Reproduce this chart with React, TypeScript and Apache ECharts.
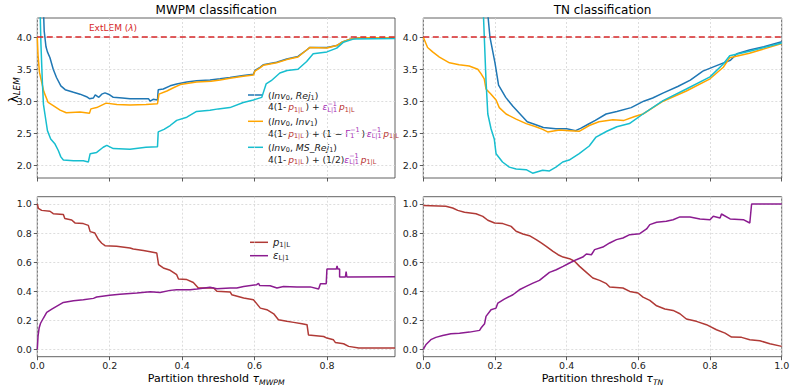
import React, { useEffect, useRef } from 'react';
import * as echarts from 'echarts';

// ---------- data ----------
const mwpmRej: number[][] = [
  [0.016, 4.6], [0.019, 4.1], [0.024, 3.85], [0.028, 3.77], [0.035, 3.68], [0.044, 3.5], [0.053, 3.37], [0.065, 3.24],
  [0.077, 3.18], [0.1, 3.14], [0.118, 3.11], [0.136, 3.07], [0.144, 3.04], [0.155, 3.05], [0.16, 3.1], [0.17, 3.06],
  [0.178, 3.11], [0.187, 3.13], [0.2, 3.1], [0.21, 3.06], [0.235, 3.05], [0.256, 3.04], [0.285, 3.04], [0.307, 3.04],
  [0.312, 3.0], [0.32, 3.03], [0.332, 3.02], [0.334, 3.18], [0.348, 3.19], [0.367, 3.24], [0.385, 3.27], [0.413, 3.3],
  [0.44, 3.32], [0.477, 3.33], [0.505, 3.35], [0.532, 3.37], [0.569, 3.4], [0.597, 3.42], [0.601, 3.48], [0.615, 3.53],
  [0.624, 3.57], [0.661, 3.61], [0.689, 3.66], [0.72, 3.7], [0.744, 3.8], [0.753, 3.84], [0.8, 3.84], [0.827, 3.87],
  [0.841, 3.92], [0.864, 3.97], [0.891, 3.99], [0.988, 3.99],
];
const mwpmInv: number[][] = [
  [0, 4.0], [0.002, 3.72], [0.006, 3.45], [0.012, 3.3], [0.018, 3.15], [0.03, 2.98], [0.044, 2.93], [0.063, 2.86],
  [0.08, 2.82], [0.118, 2.83], [0.144, 2.81], [0.148, 2.88], [0.164, 2.9], [0.19, 2.97], [0.22, 2.95], [0.256, 2.94],
  [0.3, 2.95], [0.332, 2.96], [0.336, 3.11], [0.358, 3.16], [0.376, 3.21], [0.395, 3.26], [0.44, 3.3], [0.48, 3.31],
  [0.505, 3.33], [0.532, 3.36], [0.569, 3.39], [0.597, 3.41], [0.601, 3.47], [0.615, 3.52], [0.624, 3.56], [0.661, 3.6],
  [0.689, 3.65], [0.72, 3.69], [0.744, 3.8], [0.753, 3.84], [0.8, 3.83], [0.827, 3.87], [0.841, 3.92], [0.864, 3.97],
  [0.891, 3.99], [0.988, 3.99],
];
const mwpmMsRej: number[][] = [
  [0.007, 4.6], [0.01, 3.9], [0.014, 3.3], [0.017, 2.95], [0.021, 2.8], [0.028, 2.54], [0.037, 2.41], [0.049, 2.33],
  [0.058, 2.23], [0.065, 2.13], [0.072, 2.08], [0.1, 2.07], [0.127, 2.07], [0.141, 2.05], [0.146, 2.18], [0.164, 2.2],
  [0.182, 2.28], [0.192, 2.31], [0.21, 2.26], [0.256, 2.25], [0.3, 2.28], [0.332, 2.29], [0.334, 2.52], [0.35, 2.56],
  [0.367, 2.62], [0.385, 2.7], [0.413, 2.75], [0.44, 2.84], [0.477, 2.86], [0.5, 2.88], [0.532, 2.9], [0.569, 2.98],
  [0.597, 3.02], [0.62, 3.06], [0.632, 3.27], [0.646, 3.32], [0.67, 3.44], [0.69, 3.48], [0.72, 3.5], [0.744, 3.62],
  [0.762, 3.74], [0.8, 3.77], [0.827, 3.83], [0.845, 3.92], [0.873, 3.97], [0.988, 3.98],
];
const tnRej: number[][] = [
  [0.176, 4.6], [0.186, 4.0], [0.2, 3.6], [0.21, 3.25], [0.23, 3.06], [0.25, 2.92], [0.27, 2.8], [0.29, 2.68],
  [0.31, 2.64], [0.335, 2.59], [0.37, 2.57], [0.4, 2.57], [0.425, 2.54], [0.44, 2.58], [0.46, 2.64], [0.48, 2.7],
  [0.51, 2.8], [0.54, 2.84], [0.58, 2.9], [0.615, 3.0], [0.64, 3.05], [0.67, 3.13], [0.71, 3.23], [0.745, 3.33],
  [0.78, 3.47], [0.82, 3.56], [0.857, 3.64], [0.875, 3.74], [0.91, 3.8], [0.95, 3.85], [1.0, 3.93],
];
const tnInv: number[][] = [
  [0, 4.0], [0.012, 3.84], [0.026, 3.77], [0.045, 3.69], [0.073, 3.6], [0.1, 3.57], [0.128, 3.55], [0.152, 3.5],
  [0.161, 3.43], [0.17, 3.35], [0.175, 3.19], [0.189, 3.11], [0.203, 3.02], [0.212, 2.9], [0.231, 2.8], [0.259, 2.72],
  [0.287, 2.65], [0.314, 2.6], [0.333, 2.56], [0.347, 2.52], [0.38, 2.55], [0.407, 2.54], [0.435, 2.53], [0.463, 2.62],
  [0.49, 2.68], [0.529, 2.71], [0.56, 2.7], [0.59, 2.76], [0.613, 2.8], [0.669, 3.0], [0.734, 3.16], [0.8, 3.35],
  [0.837, 3.53], [0.855, 3.68], [0.91, 3.75], [1.0, 3.9],
];
const tnMsRej: number[][] = [
  [0.166, 4.6], [0.175, 3.32], [0.18, 2.8], [0.189, 2.57], [0.198, 2.41], [0.203, 2.18], [0.221, 2.05], [0.24, 1.97],
  [0.259, 1.94], [0.287, 1.93], [0.305, 1.875], [0.333, 1.92], [0.352, 1.91], [0.37, 1.97], [0.389, 2.05], [0.407, 2.08],
  [0.435, 2.18], [0.463, 2.3], [0.482, 2.44], [0.512, 2.53], [0.54, 2.6], [0.575, 2.65], [0.613, 2.8], [0.669, 3.01],
  [0.734, 3.19], [0.8, 3.38], [0.837, 3.58], [0.855, 3.71], [0.91, 3.78], [1.0, 3.91],
];
const mwpmP: number[][] = [
  [0, 1.0], [0.003, 0.97], [0.012, 0.956], [0.035, 0.95], [0.044, 0.933], [0.072, 0.927], [0.076, 0.9], [0.095, 0.89],
  [0.104, 0.87], [0.127, 0.865], [0.141, 0.853], [0.146, 0.81], [0.159, 0.8], [0.169, 0.755], [0.178, 0.73], [0.187, 0.713],
  [0.219, 0.709], [0.256, 0.697], [0.265, 0.69], [0.293, 0.68], [0.312, 0.672], [0.33, 0.663], [0.335, 0.583], [0.348, 0.56],
  [0.367, 0.544], [0.385, 0.514], [0.39, 0.484], [0.413, 0.48], [0.431, 0.46], [0.441, 0.433], [0.445, 0.422], [0.487, 0.422],
  [0.496, 0.4], [0.533, 0.394], [0.537, 0.376], [0.57, 0.353], [0.597, 0.342], [0.616, 0.284], [0.634, 0.273], [0.653, 0.245],
  [0.666, 0.204], [0.689, 0.193], [0.708, 0.186], [0.731, 0.177], [0.745, 0.17], [0.749, 0.1], [0.791, 0.089], [0.8, 0.078],
  [0.818, 0.066], [0.823, 0.048], [0.846, 0.039], [0.86, 0.021], [0.888, 0.01], [0.988, 0.01],
];
const mwpmEps: number[][] = [
  [0, 0], [0.002, 0.09], [0.005, 0.147], [0.009, 0.18], [0.017, 0.216], [0.026, 0.255], [0.04, 0.277], [0.053, 0.296],
  [0.072, 0.323], [0.1, 0.335], [0.127, 0.342], [0.155, 0.351], [0.164, 0.36], [0.2, 0.372], [0.228, 0.38], [0.275, 0.388],
  [0.312, 0.397], [0.339, 0.392], [0.367, 0.406], [0.385, 0.41], [0.422, 0.41], [0.441, 0.415], [0.477, 0.427], [0.496, 0.417],
  [0.533, 0.422], [0.551, 0.422], [0.57, 0.433], [0.606, 0.445], [0.611, 0.455], [0.614, 0.44], [0.643, 0.438], [0.662, 0.422],
  [0.68, 0.433], [0.717, 0.429], [0.754, 0.43], [0.777, 0.415], [0.782, 0.452], [0.798, 0.452], [0.8, 0.553], [0.826, 0.553],
  [0.828, 0.575], [0.83, 0.553], [0.835, 0.553], [0.835, 0.498], [0.851, 0.498], [0.853, 0.535], [0.855, 0.498], [0.988, 0.5],
];
const tnP: number[][] = [
  [0, 0.99], [0.063, 0.984], [0.082, 0.972], [0.096, 0.956], [0.115, 0.943], [0.147, 0.933], [0.166, 0.915], [0.18, 0.888],
  [0.199, 0.869], [0.222, 0.865], [0.245, 0.846], [0.259, 0.812], [0.278, 0.794], [0.296, 0.782], [0.315, 0.755], [0.329, 0.732],
  [0.343, 0.709], [0.362, 0.674], [0.376, 0.651], [0.39, 0.635], [0.408, 0.624], [0.422, 0.606], [0.436, 0.571], [0.455, 0.53],
  [0.473, 0.491], [0.492, 0.475], [0.511, 0.452], [0.52, 0.429], [0.557, 0.422], [0.576, 0.399], [0.599, 0.388], [0.613, 0.36],
  [0.632, 0.337], [0.651, 0.3], [0.674, 0.278], [0.697, 0.268], [0.716, 0.245], [0.734, 0.209], [0.762, 0.193], [0.79, 0.17],
  [0.818, 0.135], [0.842, 0.112], [0.86, 0.085], [0.888, 0.083], [0.911, 0.067], [0.939, 0.06], [0.967, 0.039], [1.0, 0.021],
];
const tnEps: number[][] = [
  [0, 0], [0.007, 0.032], [0.021, 0.067], [0.035, 0.083], [0.054, 0.096], [0.077, 0.108], [0.101, 0.112], [0.129, 0.119],
  [0.157, 0.131], [0.161, 0.147], [0.171, 0.177], [0.175, 0.227], [0.189, 0.273], [0.203, 0.284], [0.208, 0.319], [0.226, 0.346],
  [0.25, 0.376], [0.268, 0.41], [0.287, 0.433], [0.306, 0.456], [0.324, 0.475], [0.338, 0.502], [0.352, 0.53], [0.371, 0.548],
  [0.39, 0.571], [0.408, 0.594], [0.427, 0.617], [0.445, 0.635], [0.455, 0.656], [0.469, 0.651], [0.478, 0.686], [0.501, 0.704],
  [0.52, 0.732], [0.539, 0.755], [0.557, 0.766], [0.576, 0.789], [0.604, 0.796], [0.623, 0.828], [0.632, 0.858], [0.651, 0.874],
  [0.678, 0.881], [0.697, 0.892], [0.716, 0.911], [0.744, 0.911], [0.772, 0.897], [0.8, 0.892], [0.809, 0.915], [0.828, 0.904],
  [0.832, 0.931], [0.856, 0.897], [0.893, 0.892], [0.911, 0.869], [0.916, 1.0], [1.0, 1.0],
];

const topTicks = [2.0, 2.5, 3.0, 3.5, 4.0];
const bottomTicks = [0, 0.2, 0.4, 0.6, 0.8, 1.0];
const mwpmXTicks = [0, 0.2, 0.4, 0.6, 0.8];
const tnXTicks = [0, 0.2, 0.4, 0.6, 0.8, 1.0];
const extLem = 4.0;

// ---------- styling ----------
const FONT = '"DejaVu Sans", sans-serif';
const C_REJ = '#1f77b4';
const C_INV = '#ffa500';
const C_MS = '#17becf';
const C_RED = '#d62728';
const C_P = '#b03a36';
const C_EPS = '#8b1c90';
const C_PTXT = '#b8312f';
const C_ETXT = '#a52fb5';
const THIN = '\u2009';

let mctx: CanvasRenderingContext2D | null = null;
function measure(text: string, size: number, italic: boolean): number {
  if (!mctx) mctx = document.createElement('canvas').getContext('2d');
  if (!mctx) return text.length * size * 0.6;
  mctx.font = `${italic ? 'italic ' : ''}${size}px "DejaVu Sans"`;
  return mctx.measureText(text).width;
}

type Tok = { t?: string; sub?: boolean; sup?: boolean; i?: boolean; c?: string; st?: [string, string] };

function layoutText(tokens: Tok[], base: number, x0: number, y0: number, align: 'left' | 'center', color: string) {
  const pieces: any[] = [];
  let x = 0;
  for (const tk of tokens) {
    const col = tk.c || color;
    if (tk.st) {
      const s = base * 0.7;
      const w1 = measure(tk.st[0], s, false);
      const w2 = measure(tk.st[1], s, false);
      pieces.push({ x, dy: -base * 0.4, t: tk.st[0], size: s, italic: false, col });
      pieces.push({ x, dy: base * 0.32, t: tk.st[1], size: s, italic: false, col });
      x += Math.max(w1, w2);
    } else {
      const small = tk.sub || tk.sup;
      const s = small ? base * 0.7 : base;
      const dy = tk.sub ? base * 0.32 : tk.sup ? -base * 0.4 : 0;
      pieces.push({ x, dy, t: tk.t || '', size: s, italic: !!tk.i, col });
      x += measure(tk.t || '', s, !!tk.i);
    }
  }
  const start = align === 'center' ? x0 - x / 2 : x0;
  return pieces.map((p) => ({
    type: 'text',
    x: start + p.x,
    y: y0 + p.dy,
    silent: true,
    style: {
      text: p.t,
      fill: p.col,
      fontSize: p.size,
      fontFamily: FONT,
      fontStyle: p.italic ? 'italic' : 'normal',
      align: 'left',
      verticalAlign: 'middle',
    },
  }));
}

const GRIDS = [
  { left: 37.3, top: 18, width: 357.7, height: 160 },
  { left: 423.3, top: 18, width: 358.4, height: 160 },
  { left: 37.3, top: 196.7, width: 357.7, height: 160 },
  { left: 423.3, top: 196.7, width: 358.4, height: 160 },
];

const tickFont = { fontSize: 9.5, fontFamily: FONT, color: '#222' };

function xAxis(gridIndex: number, max: number, ticks: number[], showLabels: boolean) {
  return {
    type: 'value',
    gridIndex,
    min: 0,
    max,
    axisLine: { show: false, onZero: false },
    axisTick: { show: true, length: 3.5, customValues: ticks, lineStyle: { color: '#333', width: 0.8 } },
    axisLabel: {
      show: showLabels,
      customValues: ticks,
      formatter: (v: number) => v.toFixed(1),
      ...tickFont,
      margin: 4,
    },
    splitLine: { show: true, lineStyle: { color: '#d4d4d4', width: 0.8, type: [2, 2] } },
  };
}
function yAxis(gridIndex: number, min: number, max: number, ticks: number[]) {
  return {
    type: 'value',
    gridIndex,
    min,
    max,
    axisLine: { show: false, onZero: false },
    axisTick: { show: true, length: 3.5, customValues: ticks, lineStyle: { color: '#333', width: 0.8 } },
    axisLabel: {
      show: true,
      customValues: ticks,
      formatter: (v: number) => v.toFixed(1),
      ...tickFont,
      margin: 5.5,
    },
    splitLine: { show: true, lineStyle: { color: '#d4d4d4', width: 0.8, type: [2, 2] } },
  };
}

function line(data: number[][], idx: number, color: string, z: number, mark?: boolean) {
  const s: any = {
    type: 'line',
    xAxisIndex: idx,
    yAxisIndex: idx,
    data,
    symbol: 'none',
    showSymbol: false,
    clip: true,
    silent: true,
    z,
    lineStyle: { color, width: 1.5 },
    itemStyle: { color },
    emphasis: { disabled: true },
  };
  if (mark) {
    s.markLine = {
      silent: true,
      symbol: 'none',
      label: { show: false },
      lineStyle: { color: C_RED, type: [6, 3.5], width: 1.5 },
      data: [{ yAxis: extLem }],
      z: 10,
    };
  }
  return s;
}

function buildGraphics() {
  const els: any[] = [];
  // titles
  els.push(...layoutText([{ t: 'MWPM classification' }], 12, 216.2, 10, 'center', '#000'));
  els.push(...layoutText([{ t: 'TN classification' }], 12, 602.5, 10, 'center', '#000'));
  // x titles
  els.push(...layoutText([{ t: 'Partition threshold ' }, { t: 'τ', i: true }, { t: 'MWPM', i: true, sub: true }], 11, 216.2, 378.5, 'center', '#000'));
  els.push(...layoutText([{ t: 'Partition threshold ' }, { t: 'τ', i: true }, { t: 'TN', i: true, sub: true }], 11, 602.5, 378.5, 'center', '#000'));
  // y label
  els.push({
    type: 'group',
    x: 13,
    y: 90,
    rotation: Math.PI / 2,
    children: layoutText([{ t: 'λ', i: false }, { t: 'LEM', i: true, sub: true }], 12.5, 0, 0, 'center', '#000'),
  });
  // ExtLEM label
  els.push(...layoutText([{ t: 'ExtLEM (' }, { t: 'λ', i: true }, { t: ')' }], 9, 113, 28, 'center', C_RED));

  // top-left legend
  const lx = 268;
  const pTok = (c: string): Tok[] => [{ t: 'p', i: true, c }, { t: '1|L', sub: true, c }];
  const eTok: Tok[] = [{ t: 'ε', i: true, c: C_ETXT }, { st: ['−1', 'L|1'], c: C_ETXT }];
  const entries: { color: string; y: number; l1: Tok[]; l2: Tok[] }[] = [
    {
      color: C_REJ,
      y: 95,
      l1: [{ t: '(' }, { t: 'Inv', i: true }, { t: '0', sub: true }, { t: ', ' }, { t: 'Rej', i: true }, { t: '1', sub: true }, { t: ')' }],
      l2: [{ t: '4(1-' + THIN }, ...pTok(C_PTXT), { t: THIN + ') + ' }, ...eTok, { t: THIN }, ...pTok(C_PTXT)],
    },
    {
      color: C_INV,
      y: 121.3,
      l1: [{ t: '(' }, { t: 'Inv', i: true }, { t: '0', sub: true }, { t: ', ' }, { t: 'Inv', i: true }, { t: '1', sub: true }, { t: ')' }],
      l2: [
        { t: '4(1-' + THIN }, ...pTok(C_PTXT), { t: THIN + ') + (1 − ' },
        { t: 'Γ', c: C_ETXT }, { st: ['−1', '1'], c: C_ETXT }, { t: THIN + ')' + THIN },
        ...eTok, { t: THIN }, ...pTok(C_PTXT),
      ],
    },
    {
      color: C_MS,
      y: 147.3,
      l1: [{ t: '(' }, { t: 'Inv', i: true }, { t: '0', sub: true }, { t: ', ' }, { t: 'MS_Rej', i: true }, { t: '1', sub: true }, { t: ')' }],
      l2: [{ t: '4(1-' + THIN }, ...pTok(C_PTXT), { t: THIN + ') + (1/2)' }, ...eTok, { t: THIN }, ...pTok(C_PTXT)],
    },
  ];
  for (const e of entries) {
    els.push({ type: 'line', silent: true, shape: { x1: 248, y1: e.y, x2: 263, y2: e.y }, style: { stroke: e.color, lineWidth: 1.5 } });
    els.push(...layoutText(e.l1, 9.3, lx, e.y, 'left', '#222'));
    els.push(...layoutText(e.l2, 9.1, lx, e.y + 12.2, 'left', '#222'));
  }

  // bottom-left legend
  els.push({ type: 'line', silent: true, shape: { x1: 250, y1: 242.3, x2: 268, y2: 242.3 }, style: { stroke: C_P, lineWidth: 1.5 } });
  els.push(...layoutText([{ t: 'p', i: true }, { t: '1|L', sub: true }], 10, 273, 242, 'left', '#222'));
  els.push({ type: 'line', silent: true, shape: { x1: 250, y1: 255.7, x2: 268, y2: 255.7 }, style: { stroke: C_EPS, lineWidth: 1.5 } });
  els.push(...layoutText([{ t: 'ε', i: true }, { t: 'L|1', sub: true }], 10, 273, 255, 'left', '#222'));
  return els;
}

export default function App() {
  const ref = useRef<HTMLDivElement>(null);
  useEffect(() => {
    if (!ref.current) return;
    const chart = echarts.init(ref.current, undefined, { renderer: 'svg' });
    const gridOpt = GRIDS.map((g) => ({
      ...g,
      show: true,
      borderColor: '#3a3a3a',
      borderWidth: 0.8,
      backgroundColor: 'transparent',
      containLabel: false,
      outerBoundsMode: 'none',
    }));
    chart.setOption({
      animation: false,
      backgroundColor: '#ffffff',
      grid: gridOpt,
      xAxis: [
        xAxis(0, 0.988, mwpmXTicks, false),
        xAxis(1, 1.0, tnXTicks, false),
        xAxis(2, 0.988, mwpmXTicks, true),
        xAxis(3, 1.0, tnXTicks, true),
      ],
      yAxis: [
        yAxis(0, 1.8, 4.3, topTicks),
        yAxis(1, 1.8, 4.3, topTicks),
        yAxis(2, -0.05, 1.05, bottomTicks),
        yAxis(3, -0.05, 1.05, bottomTicks),
      ],
      series: [
        line(mwpmRej, 0, C_REJ, 2, true),
        line(mwpmInv, 0, C_INV, 3),
        line(mwpmMsRej, 0, C_MS, 4),
        line(tnRej, 1, C_REJ, 2, true),
        line(tnInv, 1, C_INV, 3),
        line(tnMsRej, 1, C_MS, 4),
        line(mwpmP, 2, C_P, 2),
        line(mwpmEps, 2, C_EPS, 3),
        line(tnP, 3, C_P, 2),
        line(tnEps, 3, C_EPS, 3),
      ],
      graphic: buildGraphics(),
    });
    return () => chart.dispose();
  }, []);
  return <div ref={ref} style={{ position: 'absolute', left: 0, top: 0, width: 793, height: 390 }} />;
}
